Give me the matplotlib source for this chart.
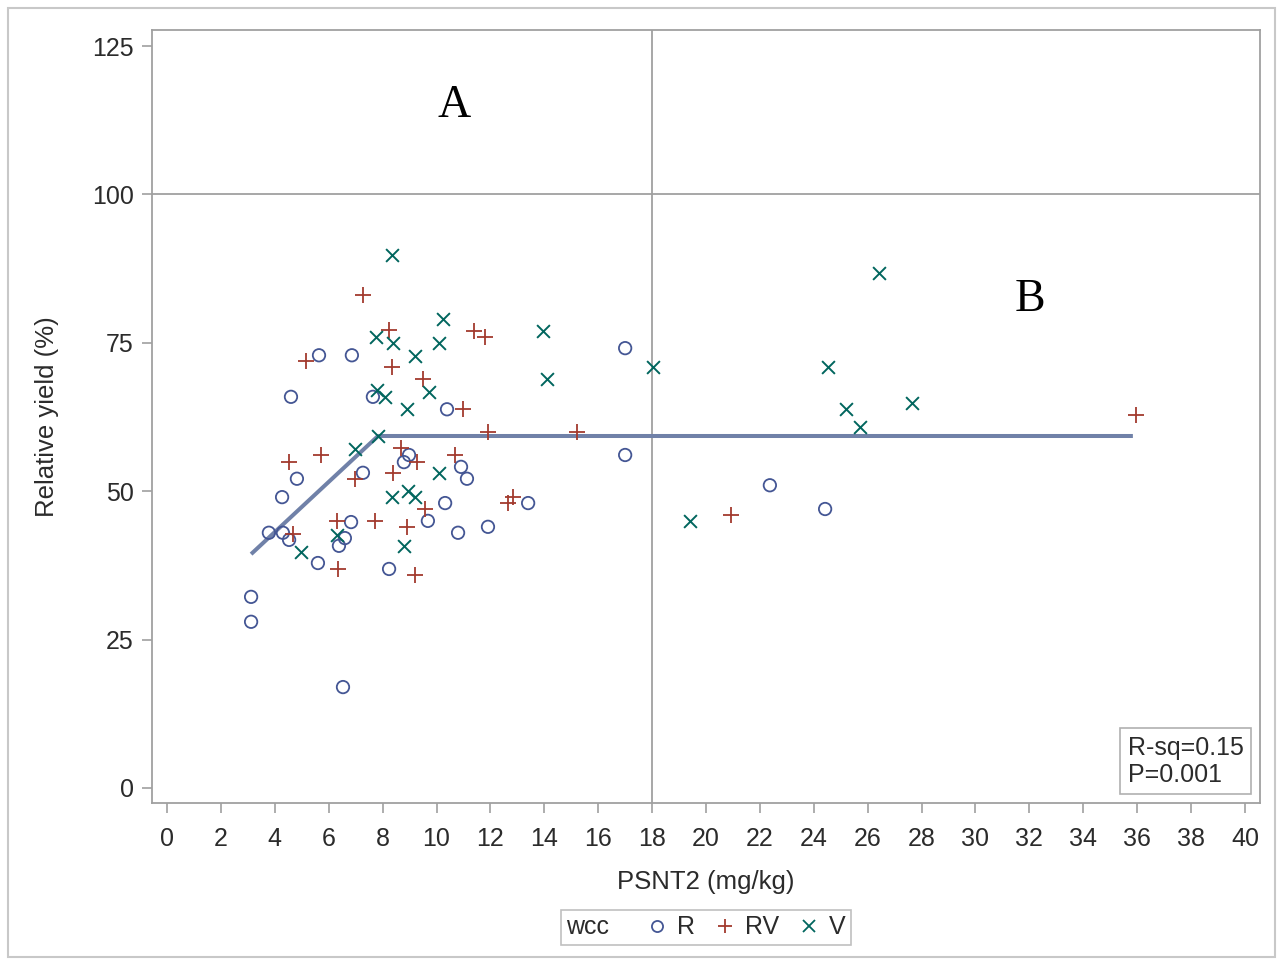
import matplotlib
matplotlib.use("Agg")
import matplotlib.pyplot as plt
from matplotlib.lines import Line2D
from matplotlib.patches import Rectangle
from matplotlib.offsetbox import AnchoredText, HPacker

plt.rcParams['font.family'] = ['Liberation Sans', 'DejaVu Sans']

# PSNT2 (mg/kg) and relative yield (%) by winter cover crop group
r_x = [3.12, 3.12, 3.78, 4.30, 4.53, 4.27, 4.82, 4.60, 5.64, 5.60, 6.86, 6.53,
       6.83, 6.60, 6.38, 7.27, 7.64, 8.24, 8.98, 8.79, 9.68, 10.39, 10.91, 11.13,
       10.32, 10.80, 11.91, 13.40, 17.0, 17.0, 22.37, 24.42]
r_y = [32.2, 28.0, 43.0, 43.0, 41.8, 49.0, 52.1, 65.9, 72.9, 37.9, 72.9, 17.0,
       44.8, 42.1, 40.8, 53.1, 65.9, 36.9, 56.1, 54.9, 45.0, 63.8, 54.1, 52.1,
       48.0, 43.0, 44.0, 48.0, 74.1, 56.1, 51.0, 47.0]

rv_x = [4.53, 4.68, 5.16, 5.71, 6.31, 6.35, 6.98, 7.27, 7.72, 8.24, 8.35, 8.39,
        8.68, 8.91, 9.20, 9.28, 9.50, 9.57, 10.69, 10.98, 11.39, 11.80, 11.91,
        12.65, 12.84, 15.21, 20.93, 35.96]
rv_y = [54.9, 42.8, 71.9, 56.1, 45.0, 36.9, 52.1, 83.1, 45.0, 77.2, 70.9, 53.1,
        57.3, 44.0, 35.9, 54.9, 68.9, 47.0, 56.1, 63.8, 77.0, 76.0, 60.0,
        48.0, 49.0, 60.0, 46.0, 62.8]

v_x = [4.97, 6.31, 6.98, 7.83, 7.76, 8.35, 8.39, 9.20, 7.79, 8.09, 8.91, 9.72,
       10.24, 10.09, 8.35, 8.94, 9.20, 8.79, 10.09, 13.95, 14.10, 18.03, 19.41,
       24.53, 25.20, 25.71, 26.42, 27.64]
v_y = [39.8, 42.6, 57.1, 59.3, 76.0, 89.8, 75.0, 72.8, 67.0, 65.9, 63.8, 66.7,
       79.0, 75.0, 49.0, 50.0, 49.0, 40.8, 53.1, 77.0, 68.9, 70.9, 45.0,
       70.9, 63.8, 60.8, 86.8, 64.9]

# Linear-plateau fit: start, join point, end
fit_x = [3.12, 7.83, 35.84]
fit_y = [39.4, 59.3, 59.3]

critical_x = 18
full_yield = 100

x_ticks = list(range(0, 41, 2))
y_ticks = [0, 25, 50, 75, 100, 125]

c_r = '#445694'
c_rv = '#A23A2E'
c_v = '#01665E'
grey = '#A0A0A0'
txt = '#2B2B2B'

fig = plt.figure(figsize=(12.82, 9.61), dpi=100)
ax = fig.add_axes([152 / 1282, 1 - 803 / 961, (1260 - 152) / 1282, (803 - 30) / 961])

ax.axvline(critical_x, color=grey, lw=1.3, zorder=1)
ax.axhline(full_yield, color=grey, lw=1.3, zorder=1)

ax.plot(fit_x, fit_y, color='#7081A8', lw=2.9, solid_capstyle='butt', zorder=2)

ax.scatter(r_x, r_y, marker='o', s=80, facecolors='none', edgecolors=c_r,
           linewidths=1.3, zorder=3)
ax.scatter(rv_x, rv_y, marker='+', s=120, color=c_rv, linewidths=1.3, zorder=3)
ax.scatter(v_x, v_y, marker='x', s=85, color=c_v, linewidths=1.4, zorder=3)

ax.text(10.65, 115.0, 'A', fontsize=33, family=['Liberation Serif', 'DejaVu Serif'],
        ha='center', va='center', color='black')
ax.text(32.02, 82.2, 'B', fontsize=33, family=['Liberation Serif', 'DejaVu Serif'],
        ha='center', va='center', color='black')

ax.set_xlim(-0.557, 40.557)
ax.set_ylim(-2.53, 127.7)
ax.set_xticks(x_ticks)
ax.set_yticks(y_ticks)
ax.tick_params(axis='both', direction='out', length=7, width=1.2, color=grey,
               labelsize=18, labelcolor=txt, pad=6)
ax.tick_params(axis='x', pad=10)
for sp in ax.spines.values():
    sp.set_color(grey)
    sp.set_linewidth(1.3)

ax.set_xlabel('PSNT2 (mg/kg)', fontsize=18.5, color=txt, labelpad=14)
ax.set_ylabel('Relative yield (%)', fontsize=18.5, color=txt, labelpad=24)

stats = AnchoredText('R-sq=0.15\nP=0.001', loc='lower right', frameon=True,
                     borderpad=0.35, pad=0.3,
                     prop=dict(fontsize=18, color=txt, linespacing=1.15))
stats.patch.set_edgecolor('#B0B0B0')
stats.patch.set_linewidth(1.2)
ax.add_artist(stats)

handles = [
    Line2D([], [], ls='none', marker='o', markersize=8, markerfacecolor='none',
           markeredgecolor=c_r, markeredgewidth=1.3),
    Line2D([], [], ls='none', marker='+', markersize=10, color=c_rv,
           markeredgewidth=1.3),
    Line2D([], [], ls='none', marker='x', markersize=8, color=c_v,
           markeredgewidth=1.3),
]
leg = fig.legend(handles, ['R', 'RV', 'V'], title='wcc', ncol=3,
                 loc='center', bbox_to_anchor=(706 / 1282, 1 - 927.5 / 961),
                 fontsize=18, title_fontsize=18, frameon=True, fancybox=False,
                 handlelength=0.8, handletextpad=0.4, columnspacing=0.8,
                 borderpad=0.22, edgecolor='#B0B0B0')
leg.get_frame().set_linewidth(1.2)
for t in leg.get_texts():
    t.set_color(txt)
leg.get_title().set_color(txt)

# put the legend title on the same row as the entries
old_box = leg._legend_box
row = HPacker(pad=old_box.pad, sep=27, align='center',
              children=old_box.get_children())
row.set_figure(fig)
row.axes = leg.axes
row.set_offset(leg._findoffset)
leg._legend_box = row

fig.add_artist(Rectangle((8 / 1282, 1 - 957 / 961), (1275 - 8) / 1282, (957 - 8) / 961,
                         transform=fig.transFigure, fill=False,
                         edgecolor='#C8C8C8', lw=1.5))

fig.savefig('out.png', dpi=100, facecolor='white')
